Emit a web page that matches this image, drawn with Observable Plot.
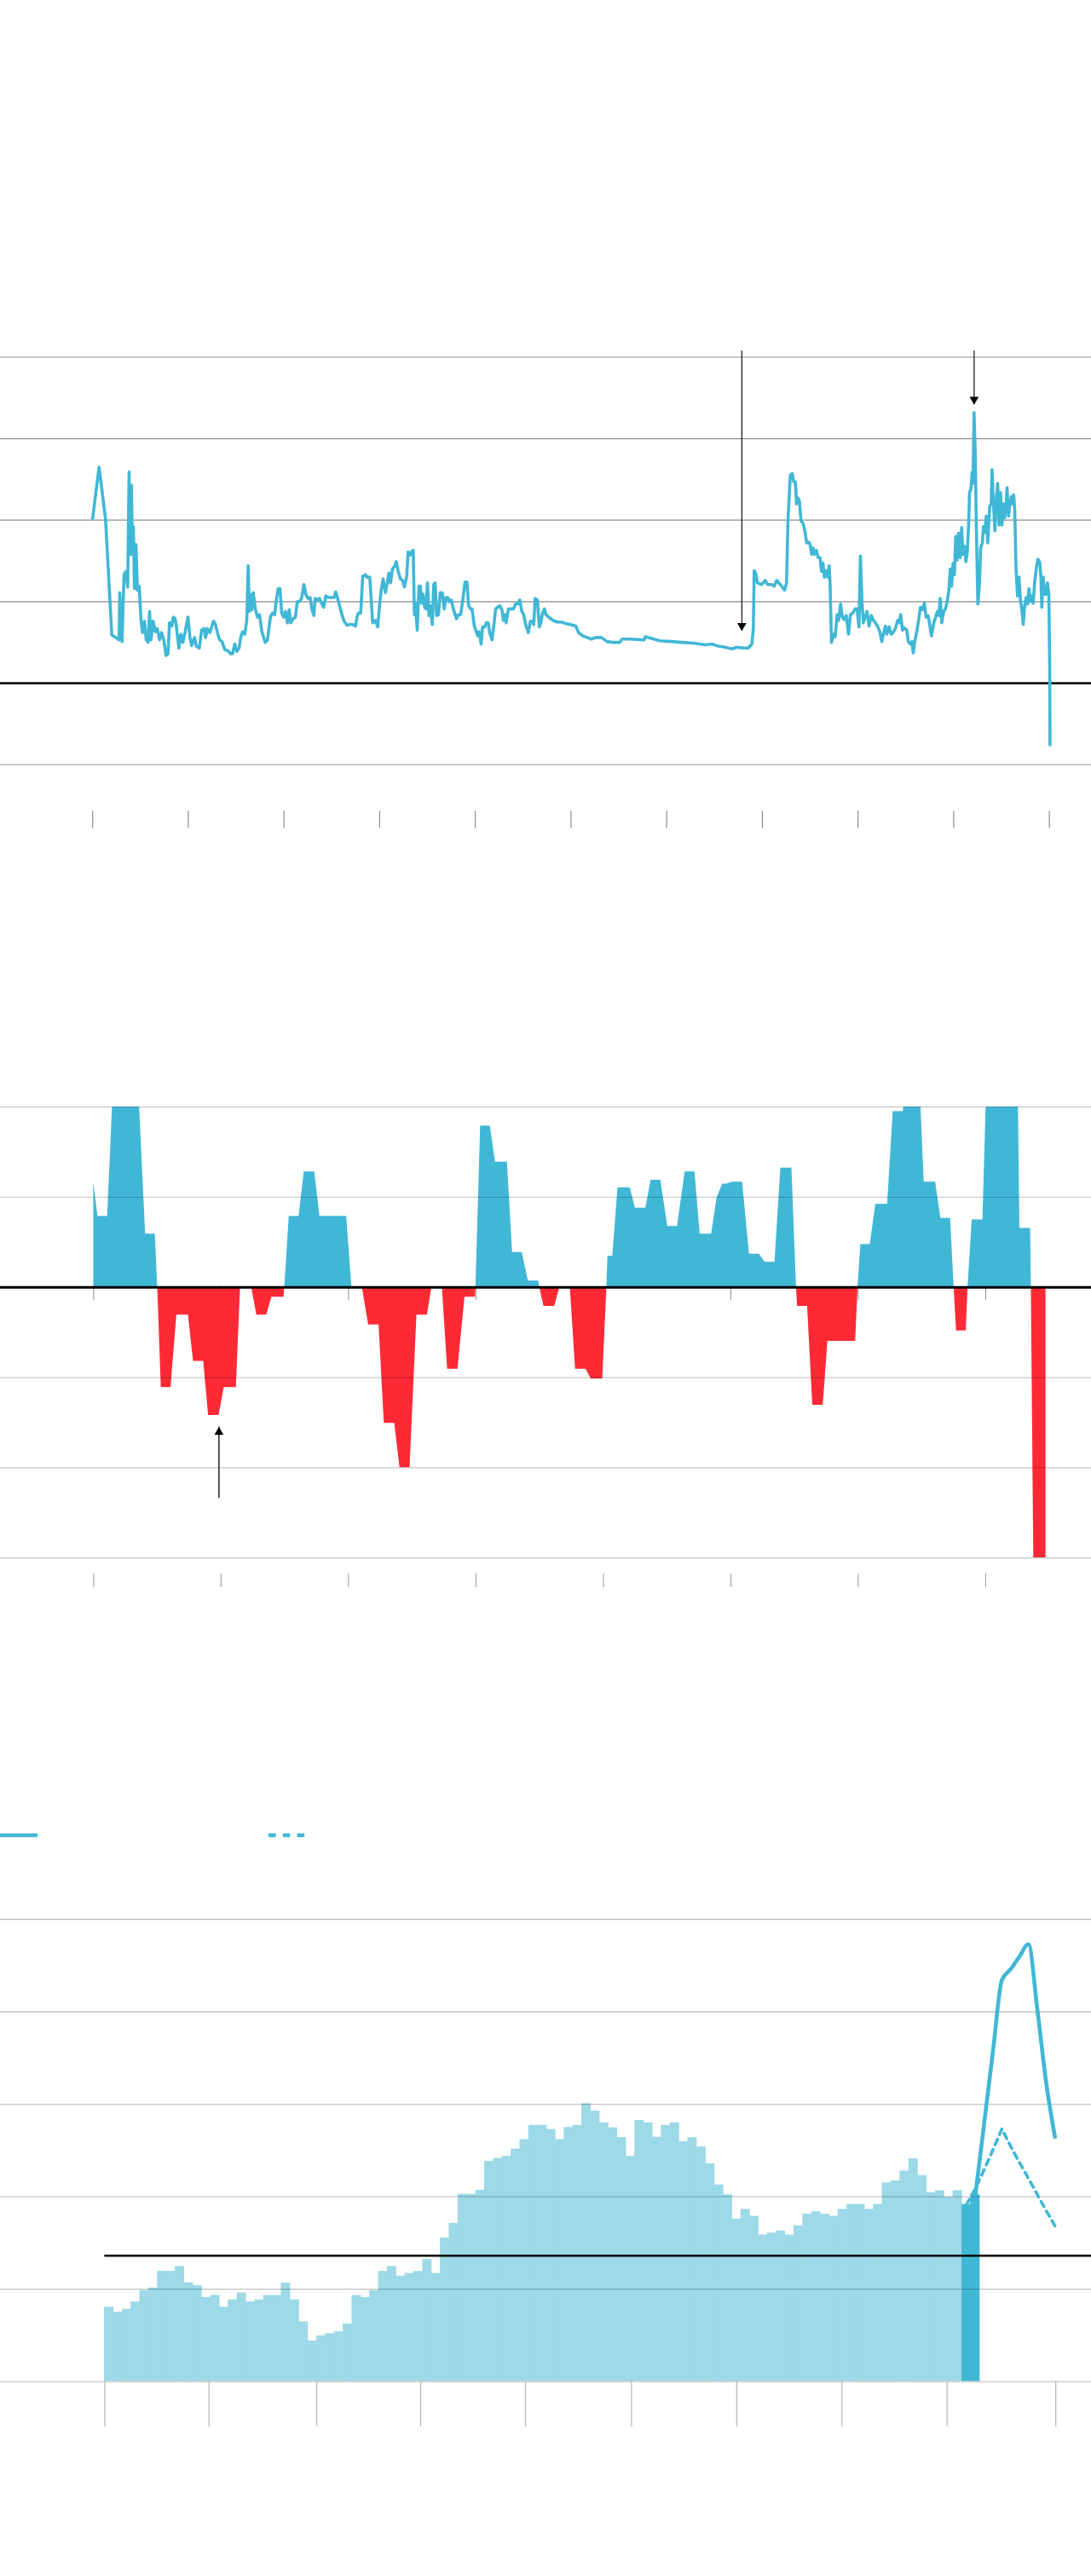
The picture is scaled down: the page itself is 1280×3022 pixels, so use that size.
<!DOCTYPE html>
<html><head><meta charset="utf-8">
<script src="https://cdn.jsdelivr.net/npm/d3@7"></script>
<script src="https://cdn.jsdelivr.net/npm/@observablehq/plot@0.6"></script>
<style>
body{margin:0;background:#fff;width:1280px;height:3022px;position:relative;font-family:Lato,"Noto Sans",sans-serif;overflow:hidden;}
.blk{position:absolute;left:0;}
</style></head><body>
<div id="c1" class="blk" style="top:380px"></div>
<div id="c2" class="blk" style="top:1260px"></div>
<svg id="legend" class="blk" style="top:2140px" width="400" height="26">
  <line x1="0" y1="13" x2="44" y2="13" stroke="#43b8d6" stroke-width="4.5"/>
  <line x1="315" y1="13" x2="358" y2="13" stroke="#43b8d6" stroke-width="4.5" stroke-dasharray="8.6,8.2"/>
</svg>
<div id="c3" class="blk" style="top:2200px"></div>
<script>
const BLUE = "#41b7d6", RED = "#fd2a36", LIGHT = "#9dd9e7";

// ---------- Chart 1: long price series (t = tick units, v = grid units) ----------
const priceSeries = [
[0.000,2.02],[0.067,2.65],[0.135,2.01],[0.200,0.59],[0.254,0.55],[0.277,0.53],[0.283,1.11],[0.307,0.51],[0.328,1.33],[0.348,1.37],
[0.366,1.18],[0.381,2.59],[0.393,1.58],[0.405,2.43],[0.417,1.58],[0.426,1.92],[0.437,1.16],[0.453,1.70],[0.468,1.14],[0.486,1.19],
[0.506,0.77],[0.521,0.62],[0.542,0.76],[0.560,0.53],[0.580,0.50],[0.595,0.88],[0.610,0.53],[0.631,0.76],[0.655,0.63],[0.675,0.67],
[0.699,0.53],[0.720,0.62],[0.744,0.53],[0.767,0.34],[0.788,0.36],[0.803,0.74],[0.827,0.70],[0.842,0.81],[0.862,0.79],[0.878,0.67],
[0.901,0.43],[0.922,0.60],[0.943,0.50],[0.967,0.63],[0.996,0.81],[1.017,0.56],[1.034,0.46],[1.065,0.56],[1.085,0.45],[1.115,0.43],
[1.139,0.65],[1.165,0.67],[1.181,0.56],[1.198,0.67],[1.225,0.62],[1.246,0.70],[1.263,0.76],[1.284,0.72],[1.308,0.60],[1.328,0.53],
[1.352,0.51],[1.382,0.41],[1.412,0.40],[1.442,0.36],[1.462,0.36],[1.486,0.48],[1.507,0.39],[1.531,0.43],[1.546,0.55],[1.566,0.63],
[1.590,0.60],[1.611,0.77],[1.626,1.44],[1.638,0.88],[1.649,1.09],[1.664,0.90],[1.679,1.11],[1.700,0.91],[1.724,0.81],[1.744,0.84],
[1.769,0.63],[1.804,0.50],[1.827,0.53],[1.858,0.81],[1.881,0.86],[1.902,0.84],[1.923,1.05],[1.940,1.16],[1.958,1.16],[1.976,0.86],
[1.997,0.81],[2.014,0.88],[2.036,0.74],[2.054,0.90],[2.071,0.74],[2.095,0.79],[2.119,0.81],[2.139,1.00],[2.161,1.00],[2.184,1.04],
[2.208,1.21],[2.229,1.09],[2.250,1.04],[2.273,1.05],[2.294,0.90],[2.312,0.83],[2.326,1.04],[2.348,1.02],[2.371,1.04],[2.392,0.98],
[2.415,0.93],[2.437,1.07],[2.466,1.05],[2.496,1.05],[2.526,1.05],[2.540,1.12],[2.561,1.04],[2.585,0.93],[2.606,0.84],[2.629,0.76],
[2.659,0.71],[2.689,0.72],[2.718,0.72],[2.749,0.70],[2.763,0.81],[2.778,0.86],[2.802,0.86],[2.823,1.31],[2.852,1.33],[2.867,1.30],
[2.897,1.30],[2.927,0.74],[2.956,0.77],[2.980,0.69],[3.001,0.98],[3.016,1.14],[3.036,1.28],[3.060,1.11],[3.081,1.24],[3.096,1.35],
[3.114,1.23],[3.134,1.40],[3.158,1.44],[3.173,1.49],[3.194,1.37],[3.217,1.28],[3.239,1.26],[3.259,1.18],[3.283,1.31],[3.297,1.61],
[3.319,1.57],[3.337,1.62],[3.351,1.63],[3.363,0.84],[3.372,0.98],[3.393,0.65],[3.411,1.19],[3.426,1.19],[3.437,0.98],[3.455,1.09],
[3.470,0.93],[3.485,0.91],[3.500,1.23],[3.515,0.83],[3.529,0.95],[3.550,0.72],[3.565,1.21],[3.580,1.23],[3.595,0.83],[3.615,0.84],
[3.633,1.11],[3.654,1.11],[3.675,0.91],[3.693,1.05],[3.713,1.05],[3.728,1.00],[3.749,1.02],[3.773,0.90],[3.803,0.79],[3.823,0.84],
[3.847,0.84],[3.871,1.04],[3.892,1.24],[3.912,1.24],[3.930,0.95],[3.951,0.91],[3.966,0.91],[3.990,0.70],[4.010,0.63],[4.025,0.58],
[4.040,0.63],[4.061,0.48],[4.076,0.69],[4.099,0.69],[4.114,0.74],[4.135,0.74],[4.150,0.62],[4.174,0.53],[4.197,0.74],[4.212,0.91],
[4.233,0.93],[4.257,0.95],[4.278,0.90],[4.293,0.77],[4.308,0.84],[4.322,0.74],[4.346,0.91],[4.367,0.91],[4.397,0.91],[4.420,0.97],
[4.441,0.97],[4.465,1.02],[4.486,0.88],[4.506,0.84],[4.530,0.70],[4.554,0.62],[4.575,0.76],[4.595,0.76],[4.611,0.72],[4.625,1.04],
[4.649,1.02],[4.669,0.69],[4.685,0.74],[4.702,0.86],[4.723,0.91],[4.738,0.84],[4.767,0.81],[4.812,0.77],[4.857,0.75],[4.901,0.75],
[4.946,0.73],[4.990,0.72],[5.050,0.70],[5.079,0.62],[5.124,0.58],[5.168,0.56],[5.213,0.54],[5.257,0.56],[5.317,0.56],[5.377,0.51],
[5.436,0.50],[5.510,0.50],[5.534,0.54],[5.629,0.54],[5.763,0.53],[5.778,0.57],[5.837,0.55],[5.926,0.52],[6.045,0.51],[6.164,0.50],
[6.282,0.49],[6.401,0.47],[6.475,0.48],[6.520,0.46],[6.609,0.44],[6.683,0.42],[6.728,0.44],[6.802,0.43],[6.852,0.43],[6.891,0.48],
[6.906,0.67],[6.915,1.38],[6.930,1.35],[6.950,1.23],[6.995,1.21],[7.030,1.26],[7.054,1.21],[7.099,1.21],[7.123,1.19],[7.150,1.26],
[7.188,1.21],[7.233,1.14],[7.253,1.23],[7.268,1.99],[7.292,2.55],[7.313,2.57],[7.328,2.47],[7.346,2.47],[7.357,2.20],[7.373,2.27],
[7.387,2.24],[7.405,1.99],[7.426,1.96],[7.446,1.86],[7.464,1.72],[7.485,1.73],[7.500,1.70],[7.515,1.58],[7.529,1.66],[7.545,1.58],
[7.565,1.63],[7.583,1.54],[7.604,1.54],[7.619,1.37],[7.634,1.47],[7.649,1.30],[7.672,1.38],[7.685,1.30],[7.699,1.44],[7.708,1.23],
[7.723,0.50],[7.743,0.60],[7.761,0.57],[7.782,0.84],[7.797,0.77],[7.818,0.97],[7.836,0.81],[7.856,0.78],[7.877,0.83],[7.901,0.60],
[7.921,0.84],[7.945,0.86],[7.969,0.91],[7.990,0.91],[8.010,0.69],[8.025,1.56],[8.041,1.02],[8.055,0.74],[8.073,0.81],[8.094,0.88],
[8.115,0.70],[8.139,0.83],[8.162,0.77],[8.183,0.74],[8.207,0.69],[8.228,0.63],[8.249,0.51],[8.266,0.60],[8.287,0.70],[8.302,0.60],
[8.326,0.69],[8.347,0.60],[8.367,0.62],[8.391,0.67],[8.415,0.77],[8.436,0.74],[8.445,0.84],[8.465,0.65],[8.486,0.68],[8.510,0.65],
[8.525,0.51],[8.549,0.48],[8.563,0.51],[8.578,0.37],[8.593,0.51],[8.614,0.63],[8.634,0.77],[8.652,0.93],[8.673,0.90],[8.694,0.98],
[8.712,0.81],[8.732,0.83],[8.747,0.74],[8.768,0.58],[8.792,0.74],[8.812,0.81],[8.830,0.88],[8.845,0.83],[8.860,1.04],[8.875,0.74],
[8.896,0.88],[8.914,0.91],[8.932,1.00],[8.950,1.14],[8.964,1.40],[8.979,1.19],[8.994,1.47],[9.008,1.33],[9.021,1.80],[9.035,1.51],
[9.050,1.84],[9.068,1.54],[9.083,1.91],[9.098,1.58],[9.113,1.68],[9.128,1.49],[9.142,1.61],[9.157,1.96],[9.166,2.34],[9.181,2.38],
[9.193,2.59],[9.202,2.45],[9.213,3.32],[9.226,2.80],[9.237,1.92],[9.253,0.97],[9.270,1.23],[9.282,1.66],[9.300,1.72],[9.311,1.92],
[9.326,1.85],[9.341,2.05],[9.356,1.72],[9.377,2.17],[9.392,2.20],[9.401,2.62],[9.416,2.20],[9.431,1.87],[9.445,2.24],[9.460,2.45],
[9.475,1.94],[9.490,2.34],[9.505,1.94],[9.520,2.20],[9.534,2.03],[9.549,2.20],[9.558,2.40],[9.573,2.05],[9.588,2.20],[9.603,2.29],
[9.614,2.20],[9.627,2.31],[9.638,2.13],[9.653,1.37],[9.668,1.07],[9.683,1.30],[9.698,1.02],[9.712,0.91],[9.727,0.72],[9.742,0.95],
[9.757,1.05],[9.772,0.97],[9.787,1.16],[9.801,1.00],[9.816,1.07],[9.831,0.98],[9.846,1.23],[9.867,1.44],[9.881,1.52],[9.899,1.49],
[9.912,1.30],[9.921,0.93],[9.935,1.30],[9.950,1.09],[9.965,1.09],[9.980,1.23],[9.995,1.09],[10.004,0.18],[10.007,-0.76]
];
const priceGrid = [-1, 1, 2, 3, 4];
const priceTicks = [0, 1, 2, 3, 4, 5, 6, 7, 8, 9, 10];
const priceArrows = [{t: 6.786, tip: 0.639}, {t: 9.214, tip: 3.417}];
const priceArrowTop = 4.076;
const priceXDomain = [-0.964, 10.440];

// ---------- Chart 2: change above / below zero ----------
const changeSeries = [
[0.000,1.168],[0.033,0.788],[0.109,0.788],[0.147,2.0],[0.360,2.0],[0.407,0.590],[0.483,0.590],[0.502,0],[0.530,-1.110],[0.606,-1.110],
[0.652,-0.307],[0.743,-0.307],[0.783,-0.821],[0.863,-0.821],[0.901,-1.421],[0.983,-1.421],[1.024,-1.110],[1.119,-1.110],[1.152,0],[1.239,0],
[1.280,-0.307],[1.357,-0.307],[1.398,-0.108],[1.493,-0.108],[1.499,0],[1.534,0.788],[1.611,0.788],[1.652,1.280],[1.734,1.280],[1.775,0.788],
[1.985,0.788],[2.026,0],[2.108,0],[2.157,-0.416],[2.239,-0.416],[2.280,-1.508],[2.362,-1.508],[2.403,-2.0],[2.482,-2.0],[2.536,-0.307],
[2.618,-0.307],[2.654,0],[2.736,0],[2.777,-0.908],[2.858,-0.908],[2.913,-0.108],[2.995,-0.108],[2.999,0],[3.036,1.790],[3.112,1.790],
[3.153,1.389],[3.246,1.389],[3.287,0.387],[3.363,0.387],[3.410,0.072],[3.492,0.072],[3.500,0],[3.533,-0.21],[3.617,-0.21],[3.658,0],
[3.740,0],[3.781,-0.908],[3.863,-0.908],[3.904,-1.016],[3.994,-1.016],[4.027,0],[4.035,0.344],[4.073,0.344],[4.114,1.103],[4.210,1.103],
[4.251,0.879],[4.333,0.879],[4.374,1.190],[4.450,1.190],[4.505,0.676],[4.581,0.676],[4.641,1.280],[4.718,1.280],[4.759,0.590],[4.849,0.590],
[4.892,0.995],[4.936,1.146],[4.969,1.146],[5.010,1.168],[5.092,1.168],[5.146,0.369],[5.223,0.369],[5.269,0.278],[5.346,0.278],[5.392,1.324],
[5.479,1.324],[5.515,0],[5.523,-0.21],[5.602,-0.21],[5.643,-1.306],[5.725,-1.306],[5.761,-0.597],[5.979,-0.597],[5.998,0],[6.020,0.474],
[6.094,0.474],[6.137,0.922],[6.230,0.922],[6.274,1.949],[6.353,1.949],[6.356,2.0],[6.492,2.0],[6.517,1.168],[6.607,1.168],[6.648,0.767],
[6.724,0.767],[6.752,0],[6.771,-0.481],[6.847,-0.481],[6.861,0],[6.894,0.749],[6.978,0.749],[7.003,2.0],[7.257,2.0],[7.268,0.655],
[7.352,0.655],[7.358,0],[7.377,-3.0],[7.473,-3.0]
];
const changeGrid = [-3, -2, -1, 1, 2];
const changeTicks = [0, 1, 2, 3, 4, 5, 6, 7];
const changeArrow = [{t: 0.983, tip: -1.548, base: -2.340}];
const changeXDomain = [-0.732, 7.830];

// ---------- Chart 3: monthly bars + projections ----------
const lightBars = [
0.802,0.750,0.780,0.860,0.983,1.010,1.190,1.190,1.243,1.067,
1.036,0.908,0.930,0.802,0.882,0.957,0.860,0.882,0.930,0.930,
1.063,0.882,0.644,0.437,0.494,0.516,0.538,0.622,0.930,0.908,
0.983,1.190,1.243,1.138,1.168,1.190,1.318,1.168,1.552,1.711,
2.024,2.024,2.068,2.381,2.412,2.434,2.513,2.615,2.769,2.769,
2.725,2.615,2.747,2.769,3.003,2.924,2.796,2.743,2.637,2.434,
2.822,2.796,2.641,2.769,2.796,2.593,2.637,2.535,2.354,2.125,
2.019,1.755,1.861,1.786,1.583,1.605,1.627,1.583,1.684,1.808,
1.834,1.808,1.786,1.861,1.914,1.914,1.861,1.914,2.147,2.169,
2.275,2.407,2.227,2.041,2.063,1.993,2.063
];
const latestBars = [1.914, 2.019];
const solidProjection = [[98,2.019],[99,2.795],[100,3.580],[101,4.343],[102,4.462],[103,4.599],[104,4.731],[105,4.034],[106,3.241],[107,2.646]];
const dashedProjection = [[97,1.914],[98,2.090],[99,2.293],[100,2.509],[101,2.734],[102,2.544],[103,2.368],[104,2.200],[105,2.024],[106,1.852],[107,1.684]];
const shareGrid = [1, 2, 3, 4, 5];
const shareThreshold = 1.362;
const shareTicks = [0, 11.8, 24, 35.75, 47.6, 59.6, 71.5, 83.4, 95.3, 107.6];
const shareXDomain = [-11.80, 111.63];

function stripText(svg){ svg.querySelectorAll("text").forEach(n => n.remove()); return svg; }

// Chart 1
const c1 = Plot.plot({
  width: 1280, height: 620, marginLeft: 0, marginRight: 0, marginTop: 38.5, marginBottom: 103.5,
  x: {domain: priceXDomain},
  y: {domain: [-1, 4], axis: null},
  marks: [
    Plot.ruleY(priceGrid, {stroke: "#8e8e8e", strokeWidth: 1.2}),
    Plot.ruleY([0], {stroke: "#000", strokeWidth: 2.5}),
    Plot.axisX(priceTicks, {tickSize: 20, dy: 54.5, stroke: "#8e8e8e", strokeWidth: 1.2, tickFormat: () => "", label: null}),
    Plot.line(priceSeries, {x: d => d[0], y: d => d[1], stroke: BLUE, strokeWidth: 3.6, strokeLinejoin: "round"}),
    Plot.ruleX(priceArrows, {x: "t", y1: priceArrowTop, y2: "tip", stroke: "#222", strokeWidth: 1.3}),
    Plot.dot(priceArrows, {x: "t", y: "tip", symbol: "triangle", r: 4, rotate: 180, dy: -6.2, fill: "#000", stroke: null})
  ]
});
document.getElementById("c1").appendChild(stripText(c1));

// Chart 2
const c2 = Plot.plot({
  width: 1280, height: 620, marginLeft: 0, marginRight: 0, marginTop: 38.2, marginBottom: 52.9,
  x: {domain: changeXDomain},
  y: {domain: [-3, 2], axis: null},
  marks: [
    Plot.axisX(changeTicks, {tickSize: 16.5, dy: -318.8, stroke: "#888", tickFormat: () => "", label: null}),
    Plot.areaY(changeSeries, {x: d => d[0], y1: 0, y2: d => Math.max(0, d[1]), fill: BLUE}),
    Plot.areaY(changeSeries, {x: d => d[0], y1: 0, y2: d => Math.min(0, d[1]), fill: RED}),
    Plot.ruleY(changeGrid, {stroke: "#000", strokeOpacity: 0.22, strokeWidth: 1.2}),
    Plot.ruleY([0], {stroke: "#000", strokeWidth: 3}),
    Plot.axisX(changeTicks, {tickSize: 16, dy: 18.9, stroke: "#999", tickFormat: () => "", label: null}),
    Plot.ruleX(changeArrow, {x: "t", y1: "base", y2: "tip", stroke: "#000", strokeWidth: 1.3}),
    Plot.dot(changeArrow, {x: "t", y: "tip", symbol: "triangle", r: 4, dy: 6.2, fill: "#000", stroke: null})
  ]
});
document.getElementById("c2").appendChild(stripText(c2));

// Chart 3
const lightRows = lightBars.map((v, i) => ({i, v}));
const latestRows = latestBars.map((v, j) => ({i: lightBars.length + j, v}));
const c3 = Plot.plot({
  width: 1280, height: 680, marginLeft: 0, marginRight: 0, marginTop: 51.1, marginBottom: 86.5,
  x: {domain: shareXDomain},
  y: {domain: [0, 5], axis: null},
  marks: [
    Plot.rect(lightRows, {x1: d => d.i, x2: d => d.i + 1, y1: 0, y2: "v", fill: LIGHT, inset: -0.3}),
    Plot.rect(latestRows, {x1: d => d.i, x2: d => d.i + 1, y1: 0, y2: "v", fill: BLUE, inset: -0.3}),
    Plot.ruleY([0], {stroke: "#cfcfcf", strokeWidth: 1.5}),
    Plot.ruleY(shareGrid, {stroke: "#000", strokeOpacity: 0.28, strokeWidth: 1.1}),
    Plot.ruleY([shareThreshold], {x1: 0, x2: shareXDomain[1], stroke: "#000", strokeWidth: 2.5}),
    Plot.axisX(shareTicks, {tickSize: 53, stroke: "#b5b5b5", strokeWidth: 1.2, tickFormat: () => "", label: null}),
    Plot.line(dashedProjection, {x: d => d[0] + 0.5, y: d => d[1], stroke: BLUE, strokeWidth: 3.6, strokeDasharray: "7,6"}),
    Plot.line(solidProjection, {x: d => d[0] + 0.5, y: d => d[1], stroke: BLUE, strokeWidth: 4.6, curve: "monotone-x", strokeLinecap: "round"})
  ]
});
document.getElementById("c3").appendChild(stripText(c3));
</script>
</body></html>
